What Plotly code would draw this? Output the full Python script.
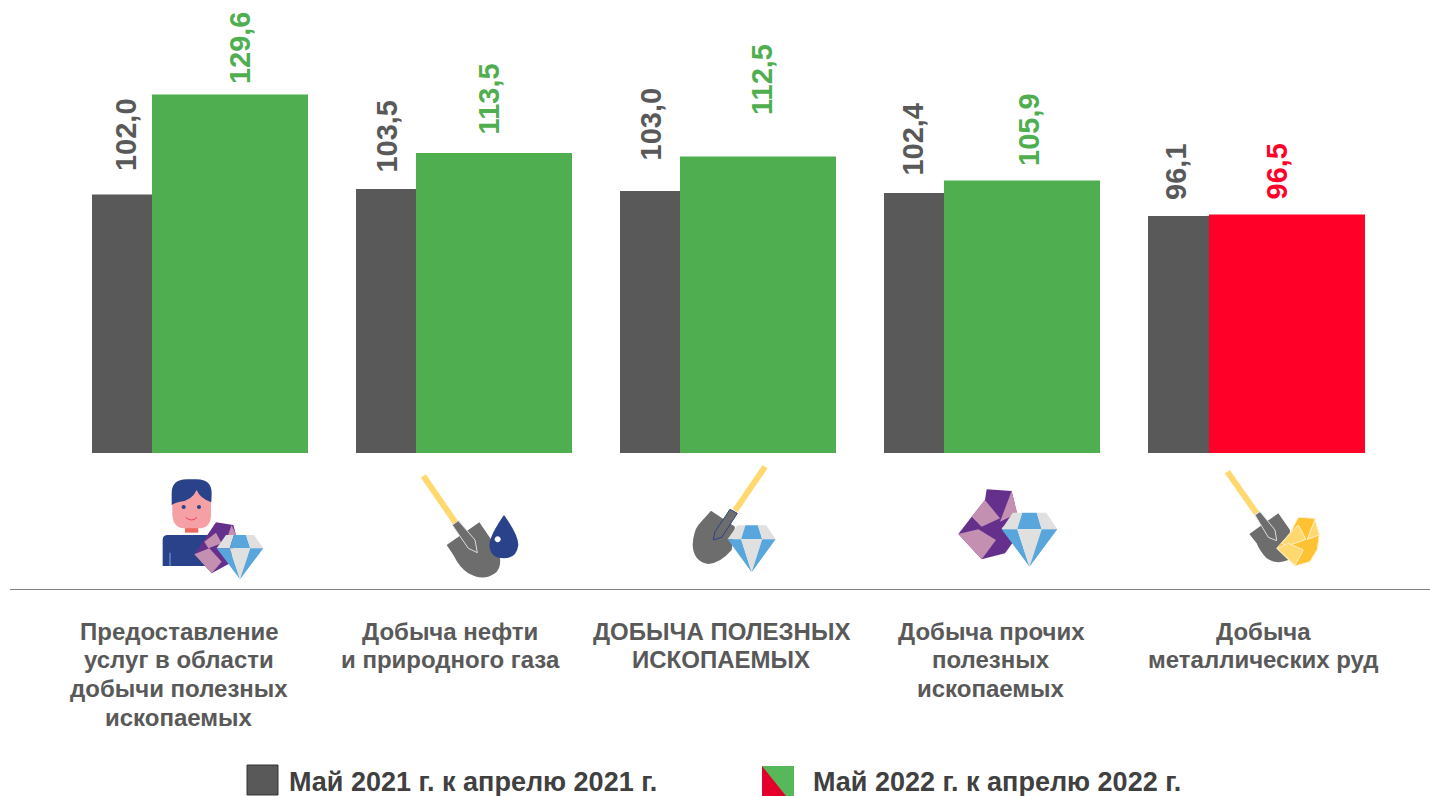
import re
import plotly.graph_objects as go

W, H = 1430, 796

# ---- data ----
categories = [
    ["Предоставление", "услуг в области", "добычи полезных", "ископаемых"],
    ["Добыча нефти", "и природного газа"],
    ["ДОБЫЧА ПОЛЕЗНЫХ", "ИСКОПАЕМЫХ"],
    ["Добыча прочих", "полезных", "ископаемых"],
    ["Добыча", "металлических руд"],
]
may_2021 = [102.0, 103.5, 103.0, 102.4, 96.1]
may_2022 = [129.6, 113.5, 112.5, 105.9, 96.5]
name_2021 = "Май 2021 г. к апрелю 2021 г."
name_2022 = "Май 2022 г. к апрелю 2022 г."

# ---- styling ----
GREY, GREEN, RED = "#595959", "#4FAE50", "#FF0029"
colors_2022 = [GREEN if v > 100 else RED for v in may_2022]
FONT = "Liberation Sans"

STEP = 264.0          # pixels between groups
X0 = 92.0             # pixel of first grey bar's left edge
BASE_PX = 453.0
PX_PER_UNIT = 3.62
BASE_VAL = 30.6
x_of = lambda px: (px - X0) / STEP
xs = list(range(len(categories)))

grey_w = [60, 60, 60, 60, 61]
tick_centers_px = [179, 450, 721, 991, 1263]
label_x_2021_px = [126, 387, 651, 913, 1176]
label_x_2022_px = [240, 489, 762, 1029, 1277]
label_gap_2021 = [25, 18, 32, 19, 18]
label_gap_2022 = [12, 20, 43, 16, 17]

fig = go.Figure()
fig.add_trace(go.Bar(name=name_2021, x=xs, y=may_2021, marker=dict(color=GREY, line_width=0),
                     offset=0, width=[g / STEP for g in grey_w]))
fig.add_trace(go.Bar(name=name_2022, x=xs, y=may_2022, marker=dict(color=colors_2022, line_width=0),
                     offset=[g / STEP for g in grey_w], width=156 / STEP))

annotations = []
for vals, xpx, gaps, cols in [
    (may_2021, label_x_2021_px, label_gap_2021, [GREY] * 5),
    (may_2022, label_x_2022_px, label_gap_2022, colors_2022),
]:
    for v, px, g, c in zip(vals, xpx, gaps, cols):
        annotations.append(dict(
            x=x_of(px), y=v, xref="x", yref="y", text="<b>" + f"{v:.1f}".replace(".", ",") + "</b>",
            textangle=-90, showarrow=False, xanchor="center", yanchor="bottom", yshift=g - 3,
            font=dict(family=FONT, size=29, color=c), borderpad=0,
        ))

# category labels, one annotation per line for the reference's tight leading
LINE_H = 28.7
for lines, cx in zip(categories, tick_centers_px):
    for n, line in enumerate(lines):
        annotations.append(dict(
            x=cx / W, y=1 - (631 + n * LINE_H) / H, xref="paper", yref="paper", text=f"<b>{line}</b>",
            showarrow=False, xanchor="center", yanchor="middle",
            font=dict(family=FONT, size=24, color=GREY),
        ))

# ---- pictogram / legend helpers (pixel -> paper) ----
shapes = []


def to_paper(d, ox=0.0, oy=0.0, k=1.0):
    toks = re.findall(r"[A-Za-z]|-?\d+\.?\d*", d)
    out, is_x = [], True
    for t in toks:
        if t.isalpha():
            out.append(t)
            is_x = True
        elif is_x:
            out.append(f"{(ox + float(t) * k) / W:.5f}")
            is_x = False
        else:
            out.append(f"{1 - (oy + float(t) * k) / H:.5f}")
            is_x = True
    return " ".join(out)


def draw(d, fill=None, o=(0, 0), k=1 / 3, line=None, lw=0):
    sh = dict(type="path", xref="paper", yref="paper", path=to_paper(d, o[0], o[1], k),
              line=dict(width=lw, color=line or "rgba(0,0,0,0)"), layer="above")
    if fill:
        sh["fillcolor"] = fill
    shapes.append(sh)


def poly(pts, fill, o, line=None, lw=0):
    d = "M " + " L ".join(f"{x} {y}" for x, y in pts) + " Z"
    draw(d, fill, o, line=line, lw=lw)


def circle(cx, cy, r, fill, o):
    c = 0.5523 * r
    d = (f"M {cx - r} {cy} C {cx - r} {cy - c} {cx - c} {cy - r} {cx} {cy - r} "
         f"C {cx + c} {cy - r} {cx + r} {cy - c} {cx + r} {cy} "
         f"C {cx + r} {cy + c} {cx + c} {cy + r} {cx} {cy + r} "
         f"C {cx - c} {cy + r} {cx - r} {cy + c} {cx - r} {cy} Z")
    draw(d, fill, o)


def diamond(l, r, t, m, b, o):
    w = r - l
    cx = (l + r) / 2
    tl, tr = l + w * .2, l + w * .8
    il, ir = l + w * .37, l + w * .63
    ml, mr = l + w * .28, l + w * .72
    G, B = "#E0E0E0", "#58A6DC"
    poly([(tl, t), (l, m), (ml, m), (il, t)], G, o)
    poly([(il, t), (ir, t), (mr, m), (ml, m)], B, o)
    poly([(ir, t), (tr, t), (r, m), (mr, m)], G, o)
    poly([(l, m), (ml, m), (cx, b)], B, o)
    poly([(ml, m), (mr, m), (cx, b)], G, o)
    poly([(mr, m), (r, m), (cx, b)], B, o)


def handle(x1, y1, x2, y2, o):
    draw(f"M {x1} {y1} L {x2} {y2}", None, o, line="#FFD96F", lw=6)


NAVY, PURPLE, LILAC, SHOVEL = "#2A4289", "#65308C", "#C490B2", "#6D6D6D"

# person with gems
o = (140, 460)
draw("M 68 318 L 68 240 Q 68 225 83 225 L 215 225 L 215 318 Z", NAVY, o)
draw("M 90 278 L 90 318", None, o, line="#6FA8DC", lw=1)
poly([(135, 198), (175, 198), (175, 218), (135, 218)], "#EE6A60", o)
draw("M 97 85 L 97 165 Q 100 205 135 205 L 175 205 Q 213 205 213 165 L 213 85 Z", "#F4A0A4", o)
draw("M 95 135 L 95 100 Q 95 58 140 58 L 170 58 Q 215 58 215 100 L 214 127 Q 180 115 170 90 "
     "Q 155 122 120 125 Q 105 128 95 135 Z", NAVY, o)
circle(131, 141, 6, NAVY, o)
circle(177, 141, 6, NAVY, o)
draw("M 137 172 Q 155 188 171 172", None, o, line="#EE4060", lw=1)
poly([(228, 187), (280, 195), (288, 225), (270, 310), (215, 340), (163, 283)], PURPLE, o)
poly([(228, 218), (245, 250), (205, 265), (193, 245)], LILAC, o)
poly([(163, 283), (208, 265), (245, 305), (215, 340)], LILAC, o)
poly([(275, 195), (288, 225), (262, 232)], LILAC, o)
diamond(230, 370, 225, 265, 358, o)

# shovel + drop
handle(850, 48, 948, 190, o)
draw("M 920 255 L 1018 187 L 1075 270 Q 1090 320 1065 340 Q 1030 365 985 340 Q 960 325 940 285 Z", SHOVEL, o)
poly([(937, 195), (955, 182), (1005, 240), (1012, 278), (985, 265)], SHOVEL, o, line="#DDDDDD", lw=1)
draw("M 1092 165 Q 1135 225 1135 255 Q 1130 295 1092 295 Q 1050 295 1048 255 Q 1050 225 1092 165 Z", NAVY, o)
circle(1073, 238, 9, "#FFFFFF", o)

# shovel + diamond
o = (680, 460)
handle(255, 20, 165, 152, o)
draw("M 93 152 L 165 200 L 155 270 Q 120 310 85 312 Q 40 305 38 255 Q 40 215 55 195 Z", SHOVEL, o)
poly([(150, 148), (172, 160), (125, 232), (100, 240), (105, 215)], SHOVEL, o, line=NAVY, lw=1)
diamond(143, 287, 196, 238, 337, o)

# gems + diamond
poly([(920, 88), (995, 93), (1012, 165), (965, 205), (1000, 245), (975, 280), (905, 298), (835, 222),
      (875, 170), (915, 120)], PURPLE, o)
poly([(915, 120), (960, 175), (905, 200), (875, 170)], LILAC, o)
poly([(995, 93), (1012, 160), (960, 185)], LILAC, o)
poly([(835, 222), (895, 208), (948, 240), (905, 298)], LILAC, o)
diamond(965, 1132, 158, 208, 320, o)

# shovel + nugget
o = (1200, 460)
handle(82, 35, 170, 160, o)
draw("M 148 222 L 235 160 L 270 210 L 265 300 Q 230 315 200 295 Q 180 275 170 250 Z", SHOVEL, o)
poly([(165, 165), (180, 155), (225, 210), (230, 242), (205, 232)], SHOVEL, o, line="#DDDDDD", lw=1)
poly([(295, 172), (343, 175), (358, 225), (352, 268), (330, 305), (285, 318), (230, 265), (270, 220)],
     "#FFC233", o, line="#FFF1C8", lw=1)
poly([(270, 220), (295, 195), (318, 238), (262, 258), (245, 250)], "#FFD96F", o, line="#FFF1C8", lw=1)
poly([(232, 265), (265, 250), (310, 270), (285, 316)], "#FFD96F", o, line="#FFF1C8", lw=1)
poly([(345, 178), (358, 225), (322, 238)], "#FFD96F", o, line="#FFF1C8", lw=1)

# separator
draw("M 10 589.5 L 1430 589.5", None, (0, 0), k=1, line="#808080", lw=1)

# legend
draw("M 247 765 L 278 765 L 278 795 L 247 795 Z", GREY, (0, 0), k=1, line="#333333", lw=1)
draw("M 762 766 L 794 766 L 794 796 L 762 796 Z", "#57B85A", (0, 0), k=1)
draw("M 762 766 L 786 796 L 762 796 Z", "#E4002B", (0, 0), k=1)
for text, xpx in [(name_2021, 287), (name_2022, 811.5)]:
    annotations.append(dict(
        x=xpx / W, y=1 - 782 / H, xref="paper", yref="paper", text=f"<b>{text}</b>", showarrow=False,
        xanchor="left", yanchor="middle", font=dict(family=FONT, size=27, color="#404040"),
    ))

fig.update_layout(
    width=W, height=H, autosize=False, margin=dict(l=0, r=0, t=0, b=0, pad=0),
    paper_bgcolor="white", plot_bgcolor="white", showlegend=False, barmode="overlay",
    annotations=annotations, shapes=shapes,
    xaxis=dict(range=[x_of(0), x_of(W)], domain=[0, 1], visible=False),
    yaxis=dict(
        range=[BASE_VAL, BASE_VAL + BASE_PX / PX_PER_UNIT], domain=[1 - BASE_PX / H, 1],
        visible=False,
    ),
)

fig.write_html("out.html", post_script="document.body.style.margin='0';",
               config=dict(displayModeBar=False))
